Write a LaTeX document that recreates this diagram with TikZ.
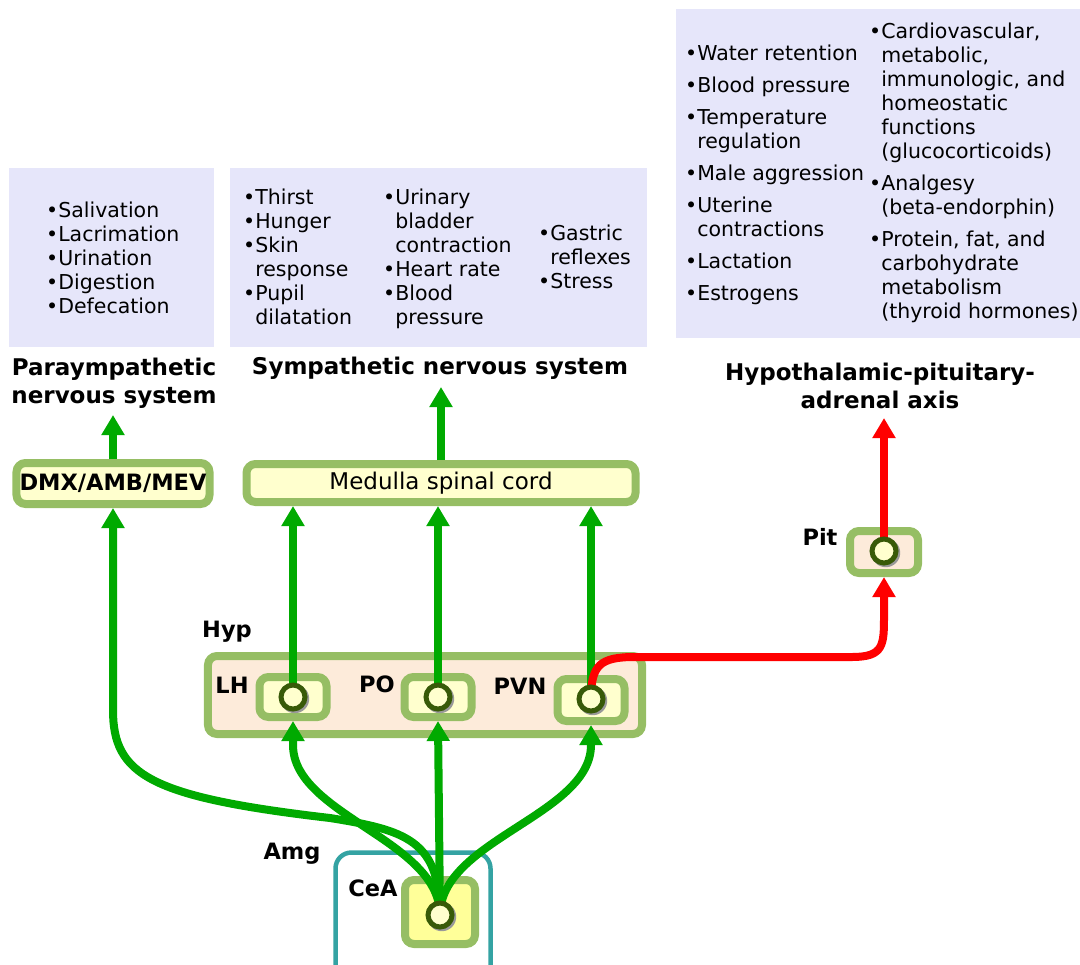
\documentclass[tikz,border=0pt]{standalone}
\usepackage{fontspec}
\setmainfont{DejaVu Sans}
\usetikzlibrary{arrows.meta,shadows}
\pgfdeclarelayer{bg}
\pgfdeclarelayer{mid}
\pgfsetlayers{bg,mid,main}

\definecolor{lav}{RGB}{230,230,250}
\definecolor{boxgreen}{RGB}{150,190,100}
\definecolor{lightyel}{RGB}{255,255,206}
\definecolor{peach}{RGB}{253,235,218}
\definecolor{ceayel}{RGB}{255,255,153}
\definecolor{teal2}{RGB}{52,163,163}
\definecolor{nucdark}{RGB}{56,90,8}
\definecolor{arrgreen}{RGB}{0,170,0}
\definecolor{arrred}{RGB}{255,0,0}

\newcommand\bi{\phantom{•}}

\tikzset{
  panel/.style={fill=lav, draw=none, inner sep=0},
  listtxt/.style={anchor=north west, inner sep=0, align=left,
    font=\fontsize{20.5bp}{24bp}\selectfont},
  ttl/.style={font=\fontsize{23bp}{28bp}\selectfont\bfseries, align=center, inner sep=0},
  lbl/.style={font=\fontsize{22.5bp}{24bp}\selectfont\bfseries, inner sep=0},
  region/.style={draw=boxgreen, line width=8bp, rounded corners=9bp, inner sep=0},
  nucleus/.style={circle, draw=nucdark, line width=5bp, fill=lightyel,
    minimum size=24bp, inner sep=0,
    drop shadow={shadow xshift=1.5bp, shadow yshift=-1.5bp, shadow scale=1.2,
      fill=black!40, opacity=1}},
  garrow/.style={draw=arrgreen, line width=8bp, -{Triangle[width=22bp,length=20bp]}},
  rarrow/.style={draw=arrred, line width=8bp, -{Triangle[width=22bp,length=20bp]}},
}

\begin{document}
\begin{tikzpicture}[x=1bp, y=-1bp]
\useasboundingbox (0,0) rectangle (1080,965);

% ---- effect panels ----
\begin{pgfonlayer}{bg}
  \node[panel, minimum width=205bp, minimum height=179bp] (ppanel) at (111.5,257.5) {};
  \node[panel, minimum width=417bp, minimum height=179bp] (spanel) at (438.5,257.5) {};
  \node[panel, minimum width=404bp, minimum height=329bp] (hpanel) at (878,173.5) {};

  % ---- structures ----
  \node[region, fill=lightyel, minimum width=193bp, minimum height=41bp] (dmx) at (113,483.5) {};
  \node[region, fill=lightyel, minimum width=389bp, minimum height=38bp] (med) at (441,483) {};
  \node[region, fill=peach, minimum width=68bp, minimum height=42bp] (pit) at (884,552) {};
  \node[region, fill=peach, minimum width=434bp, minimum height=78bp] (hyp) at (425,695) {};
  \node[region, fill=lightyel, minimum width=67bp, minimum height=40bp] (lh) at (293,697) {};
  \node[region, fill=lightyel, minimum width=67bp, minimum height=40bp] (po) at (438,697) {};
  \node[region, fill=lightyel, minimum width=67bp, minimum height=42bp] (pvn) at (591,700) {};
  \node[draw=teal2, line width=4.5bp, rounded corners=16bp, minimum width=155bp,
        minimum height=140bp, inner sep=0] (amg) at (413,922.5) {};
  \node[region, fill=ceayel, minimum width=70bp, minimum height=64bp,
        drop shadow={shadow xshift=2bp, shadow yshift=-2bp, fill=black!30, opacity=1}] (cea) at (440,912) {};
\end{pgfonlayer}

% ---- panel texts ----
\node[listtxt] (ptext) at (46,202) {•Salivation\\•Lacrimation\\•Urination\\•Digestion\\•Defecation};
\node[listtxt] (stext1) at (243,189) {•Thirst\\•Hunger\\•Skin\\\bi response\\•Pupil\\\bi dilatation};
\node[listtxt] (stext2) at (383,189) {•Urinary\\\bi bladder\\\bi contraction\\•Heart rate\\•Blood\\\bi pressure};
\node[listtxt] (stext3) at (538,225) {•Gastric\\\bi reflexes\\•Stress};
\node[listtxt] (htext1) at (685,45) {•Water retention\\[8bp]•Blood pressure\\[8bp]•Temperature\\\bi regulation\\[8bp]•Male aggression\\[8bp]•Uterine\\\bi contractions\\[8bp]•Lactation\\[8bp]•Estrogens};
\node[listtxt] (htext2) at (869,23) {•Cardiovascular,\\\bi metabolic,\\\bi immunologic, and\\\bi homeostatic\\\bi functions\\\bi (glucocorticoids)\\[8bp]•Analgesy\\\bi (beta-endorphin)\\[8bp]•Protein, fat, and\\\bi carbohydrate\\\bi metabolism\\\bi (thyroid hormones)};

% ---- titles ----
\node[ttl] (ptitle) at (114,383) {Paraympathetic\\nervous system};
\node[ttl] (stitle) at (440,368) {Sympathetic nervous system};
\node[ttl] (htitle) at (880,385.5) {Hypothalamic-pituitary-\\adrenal axis};

% ---- box texts and labels ----
\node[lbl] (dmxtext) at (dmx) {DMX/AMB/MEV};
\node[font=\fontsize{23bp}{24bp}\selectfont, inner sep=0] (medtext) at (med) {Medulla spinal cord};
\node[lbl] (hyplbl) at (227,632) {Hyp};
\node[lbl] (lhlbl) at (232,685) {LH};
\node[lbl] (polbl) at (377,684) {PO};
\node[lbl] (pvnlbl) at (520,686) {PVN};
\node[lbl] (pitlbl) at (820,537) {Pit};
\node[lbl] (amglbl) at (292,854) {Amg};
\node[lbl] (cealbl) at (373,888) {CeA};

% ---- nuclei ----
\node[nucleus] (clh) at (293,697) {};
\node[nucleus] (cpo) at (438,697) {};
\node[nucleus] (cpvn) at (591,699) {};
\node[nucleus] (cpit) at (884,551) {};
\node[nucleus] (ccea) at (440,915) {};

% ---- free arrow ends ----
\coordinate (paraend) at (113,415);
\coordinate (symend) at (441,387);
\coordinate (hpaend) at (884,418);

% ---- projections ----
\begin{pgfonlayer}{mid}
  \draw[garrow] (ccea.center) .. controls (440,840) and (405,830) .. (330,818)
        .. controls (150,797) and (113,775) .. (113,710) -- (dmx.south);
  \draw[garrow] (ccea.center) .. controls (440,840) and (293,815) .. (293,745) -- (lh.south);
  \draw[garrow] (ccea.center) -- (po.south);
  \draw[garrow] (ccea.center) .. controls (440,840) and (591,815) .. (591,745) -- (pvn.south);
  \draw[garrow] (clh.center) -- (clh.center |- med.south);
  \draw[garrow] (cpo.center) -- (cpo.center |- med.south);
  \draw[garrow] (cpvn.center) -- (cpvn.center |- med.south);
  \draw[garrow] (med.north) -- (symend);
  \draw[garrow] (dmx.north) -- (paraend);
  \draw[rarrow] (cpvn.center) .. controls (591,665) and (600,657) .. (635,657)
        -- (852,657) .. controls (884,657) and (884,645) .. (884,615) -- (pit.south);
  \draw[rarrow] (cpit.center) -- (hpaend);
\end{pgfonlayer}
\end{tikzpicture}
\end{document}
